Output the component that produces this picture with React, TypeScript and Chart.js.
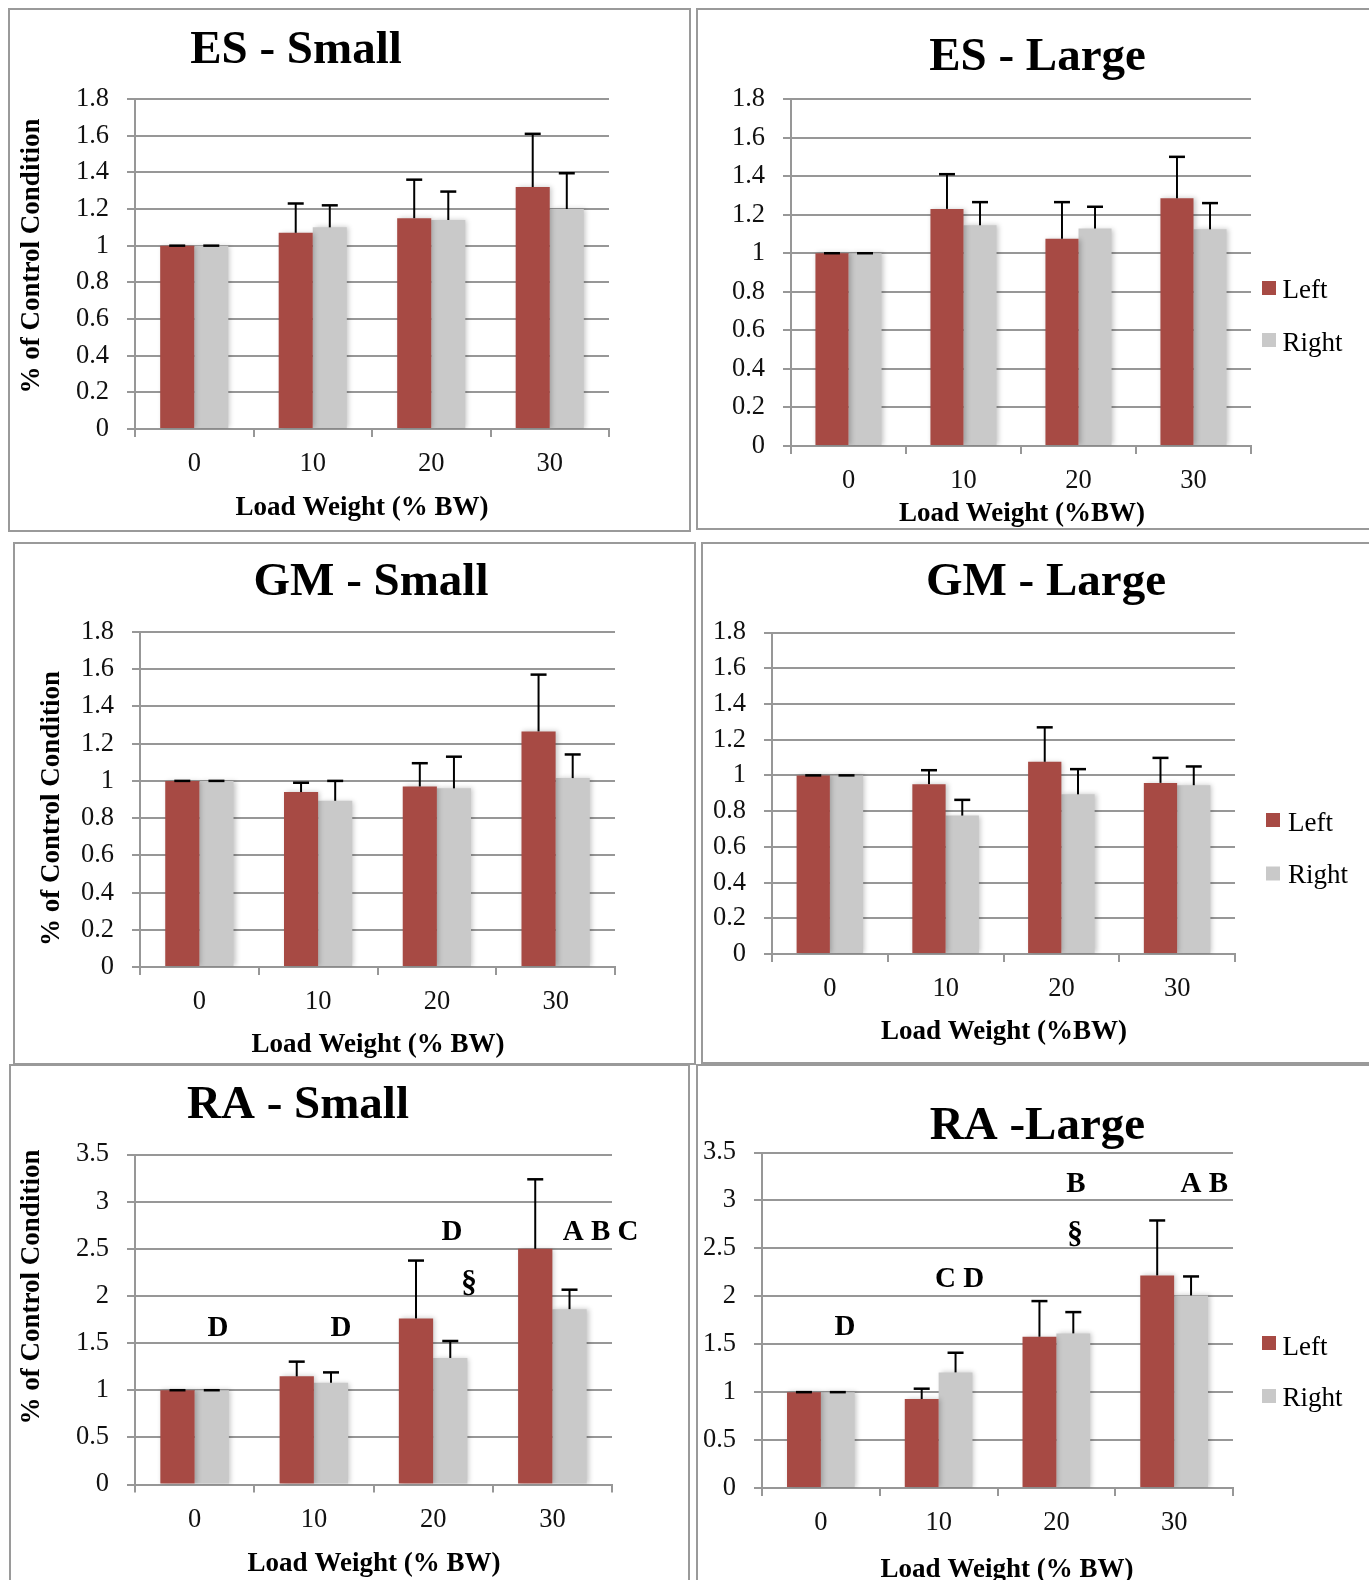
import React, { useEffect, useRef } from 'react';
import { Chart, registerables } from 'chart.js';

Chart.register(...registerables);

// Categories and tick values
const loadWeights = ['0', '10', '20', '30'];
const ticksTo18 = [0, 0.2, 0.4, 0.6, 0.8, 1, 1.2, 1.4, 1.6, 1.8];
const ticksTo35 = [0, 0.5, 1, 1.5, 2, 2.5, 3, 3.5];

// Erector spinae
const esSmallLeft = [1, 1.07, 1.15, 1.32];
const esSmallLeftErr = [0, 0.16, 0.21, 0.29];
const esSmallRight = [1, 1.1, 1.14, 1.2];
const esSmallRightErr = [0, 0.12, 0.155, 0.195];

const esLargeLeft = [1, 1.23, 1.075, 1.285];
const esLargeLeftErr = [0, 0.18, 0.19, 0.215];
const esLargeRight = [1, 1.145, 1.128, 1.124];
const esLargeRightErr = [0, 0.12, 0.113, 0.136];

// Gluteus medius
const gmSmallLeft = [1, 0.94, 0.97, 1.266];
const gmSmallLeftErr = [0, 0.05, 0.125, 0.305];
const gmSmallRight = [1, 0.893, 0.96, 1.015];
const gmSmallRightErr = [0, 0.107, 0.17, 0.127];

const gmLargeLeft = [1, 0.951, 1.076, 0.958];
const gmLargeLeftErr = [0, 0.078, 0.193, 0.14];
const gmLargeRight = [1, 0.775, 0.894, 0.945];
const gmLargeRightErr = [0, 0.088, 0.141, 0.105];

// Rectus abdominis
const raSmallLeft = [1, 1.147, 1.761, 2.5];
const raSmallLeftErr = [0, 0.156, 0.614, 0.737];
const raSmallRight = [1, 1.079, 1.342, 1.86];
const raSmallRightErr = [0, 0.11, 0.18, 0.206];

const raLargeLeft = [1, 0.928, 1.578, 2.218];
const raLargeLeftErr = [0, 0.108, 0.372, 0.573];
const raLargeRight = [1, 1.206, 1.613, 2.009];
const raLargeRightErr = [0, 0.205, 0.222, 0.198];

// Significance letters: category, text, value level, shift within the category
const raSmallMarks = [
  { cat: 0, text: 'D', value: 1.657, shift: 0.196 },
  { cat: 1, text: 'D', value: 1.657, shift: 0.227 },
  { cat: 2, text: 'D', value: 2.669, shift: 0.158 },
  { cat: 2, text: '§', value: 2.134, shift: 0.301 },
  { cat: 3, text: 'A B C', value: 2.669, shift: 0.405 },
];
const raLargeMarks = [
  { cat: 0, text: 'D', value: 1.672, shift: 0.205 },
  { cat: 1, text: 'C D', value: 2.174, shift: 0.178 },
  { cat: 2, text: 'B', value: 3.168, shift: 0.167 },
  { cat: 2, text: '§', value: 2.641, shift: 0.158 },
  { cat: 3, text: 'A B', value: 3.168, shift: 0.256 },
];

const RED = 'rgb(167, 74, 68)';
const GRAY = 'rgb(201, 201, 201)';
const GRID = '#979797';
const SERIF = "'Liberation Serif', 'Times New Roman', serif";

type Mark = { cat: number; text: string; value: number; shift: number };

interface PanelSpec {
  title: string;
  xTitle: string;
  yTitle: string | null;
  left: number[];
  leftErr: number[];
  right: number[];
  rightErr: number[];
  ticks: number[];
  marks: Mark[];
  box: { x: number; y: number; w: number; h: number };
  plot: { l: number; r: number; t: number; b: number };
  titleAt: { x: number; y: number };
  xTitleAt: { x: number; y: number };
  yTitleAt?: { x: number; y: number };
  legendAt?: { x: number; y1: number; y2: number; tx: number; b1: number; b2: number };
}

const panels: PanelSpec[] = [
  {
    title: 'ES - Small', xTitle: 'Load Weight (% BW)', yTitle: '% of Control Condition',
    left: esSmallLeft, leftErr: esSmallLeftErr, right: esSmallRight, rightErr: esSmallRightErr,
    ticks: ticksTo18, marks: [],
    box: { x: 8, y: 8, w: 683, h: 524 },
    plot: { l: 135, r: 609, t: 99, b: 429 },
    titleAt: { x: 296, y: 63 },
    xTitleAt: { x: 362, y: 514.5 },
    yTitleAt: { x: 32, y: 256 },
  },
  {
    title: 'ES - Large', xTitle: 'Load Weight (%BW)', yTitle: null,
    left: esLargeLeft, leftErr: esLargeLeftErr, right: esLargeRight, rightErr: esLargeRightErr,
    ticks: ticksTo18, marks: [],
    box: { x: 696, y: 8, w: 676, h: 522 },
    plot: { l: 791, r: 1251, t: 99, b: 446 },
    titleAt: { x: 1037.5, y: 70 },
    xTitleAt: { x: 1022, y: 520.5 },
    legendAt: { x: 1262, y1: 281, y2: 333, tx: 1282.5, b1: 298, b2: 351 },
  },
  {
    title: 'GM - Small', xTitle: 'Load Weight (% BW)', yTitle: '% of Control Condition',
    left: gmSmallLeft, leftErr: gmSmallLeftErr, right: gmSmallRight, rightErr: gmSmallRightErr,
    ticks: ticksTo18, marks: [],
    box: { x: 13, y: 542, w: 683, h: 523 },
    plot: { l: 140, r: 615, t: 632, b: 967 },
    titleAt: { x: 371, y: 595 },
    xTitleAt: { x: 378, y: 1052 },
    yTitleAt: { x: 52, y: 808.5 },
  },
  {
    title: 'GM - Large', xTitle: 'Load Weight (%BW)', yTitle: null,
    left: gmLargeLeft, leftErr: gmLargeLeftErr, right: gmLargeRight, rightErr: gmLargeRightErr,
    ticks: ticksTo18, marks: [],
    box: { x: 701, y: 542, w: 671, h: 522 },
    plot: { l: 772, r: 1235, t: 632.5, b: 954 },
    titleAt: { x: 1046, y: 595 },
    xTitleAt: { x: 1004, y: 1039 },
    legendAt: { x: 1266, y1: 813, y2: 866.5, tx: 1288, b1: 831, b2: 883 },
  },
  {
    title: 'RA - Small', xTitle: 'Load Weight (% BW)', yTitle: '% of Control Condition',
    left: raSmallLeft, leftErr: raSmallLeftErr, right: raSmallRight, rightErr: raSmallRightErr,
    ticks: ticksTo35, marks: raSmallMarks,
    box: { x: 9, y: 1064, w: 681, h: 524 },
    plot: { l: 135, r: 612, t: 1154.5, b: 1484.5 },
    titleAt: { x: 298, y: 1118 },
    xTitleAt: { x: 374, y: 1570.5 },
    yTitleAt: { x: 32, y: 1287 },
  },
  {
    title: 'RA -Large', xTitle: 'Load Weight (% BW)', yTitle: null,
    left: raLargeLeft, leftErr: raLargeLeftErr, right: raLargeRight, rightErr: raLargeRightErr,
    ticks: ticksTo35, marks: raLargeMarks,
    box: { x: 696, y: 1064, w: 676, h: 524 },
    plot: { l: 762, r: 1233, t: 1152.5, b: 1488 },
    titleAt: { x: 1037.5, y: 1139 },
    xTitleAt: { x: 1007, y: 1577 },
    legendAt: { x: 1262, y1: 1336, y2: 1389, tx: 1282.5, b1: 1354.5, b2: 1406 },
  },
];

// Draws the bar shadows, error bars, titles, legend and significance letters
function decorPlugin(p: PanelSpec) {
  const ox = p.box.x;
  const oy = p.box.y;
  return {
    id: 'panelDecor',
    beforeDatasetsDraw(chart: any) {
      const ctx = chart.ctx;
      ctx.save();
      ctx.shadowColor = 'rgba(0,0,0,0.22)';
      ctx.shadowBlur = 5;
      ctx.shadowOffsetX = 2;
      ctx.shadowOffsetY = 0;
    },
    afterDatasetsDraw(chart: any) {
      const ctx = chart.ctx;
      ctx.restore();
      const yScale = chart.scales.y;
      chart.data.datasets.forEach((ds: any, di: number) => {
        const meta = chart.getDatasetMeta(di);
        meta.data.forEach((bar: any, i: number) => {
          const v = ds.data[i];
          const e = ds.errors[i];
          const yBase = yScale.getPixelForValue(v);
          const yTop = yScale.getPixelForValue(v + e);
          ctx.save();
          ctx.strokeStyle = '#000';
          if (e > 0) {
            ctx.lineWidth = 2;
            ctx.beginPath();
            ctx.moveTo(bar.x, yBase);
            ctx.lineTo(bar.x, yTop);
            ctx.stroke();
          }
          ctx.lineWidth = 2.5;
          ctx.beginPath();
          ctx.moveTo(bar.x - 8, yTop);
          ctx.lineTo(bar.x + 8, yTop);
          ctx.stroke();
          ctx.restore();
        });
      });
    },
    afterDraw(chart: any) {
      const ctx = chart.ctx;
      ctx.save();
      ctx.fillStyle = '#000';

      ctx.font = `bold 47px ${SERIF}`;
      ctx.textAlign = 'center';
      ctx.textBaseline = 'alphabetic';
      ctx.fillText(p.title, p.titleAt.x - ox, p.titleAt.y - oy);

      ctx.font = `bold 27px ${SERIF}`;
      ctx.fillText(p.xTitle, p.xTitleAt.x - ox, p.xTitleAt.y - oy);

      if (p.yTitle && p.yTitleAt) {
        ctx.save();
        ctx.translate(p.yTitleAt.x - ox, p.yTitleAt.y - oy);
        ctx.rotate(-Math.PI / 2);
        ctx.textBaseline = 'middle';
        ctx.fillText(p.yTitle, 0, 0);
        ctx.restore();
      }

      if (p.legendAt) {
        const lg = p.legendAt;
        const names = chart.data.datasets.map((d: any) => d.label);
        const colors = chart.data.datasets.map((d: any) => d.backgroundColor);
        const ys = [lg.y1, lg.y2];
        const bs = [lg.b1, lg.b2];
        ctx.font = `27px ${SERIF}`;
        ctx.textAlign = 'left';
        names.forEach((n: string, i: number) => {
          ctx.fillStyle = colors[i];
          ctx.fillRect(lg.x - ox, ys[i] - oy, 14, 14);
          ctx.fillStyle = '#000';
          ctx.fillText(n, lg.tx - ox, bs[i] - oy);
        });
      }

      if (p.marks.length) {
        const xs = chart.scales.x;
        const ys = chart.scales.y;
        const catW = (chart.chartArea.right - chart.chartArea.left) / chart.data.labels.length;
        ctx.textAlign = 'center';
        ctx.textBaseline = 'middle';
        p.marks.forEach((m) => {
          ctx.font = m.text === '§' ? `bold 32px ${SERIF}` : `bold 29px ${SERIF}`;
          ctx.fillText(m.text, xs.getPixelForValue(m.cat) + m.shift * catW, ys.getPixelForValue(m.value));
        });
      }
      ctx.restore();
    },
  };
}

function Panel({ spec }: { spec: PanelSpec }) {
  const ref = useRef<HTMLCanvasElement | null>(null);
  useEffect(() => {
    const canvas = ref.current;
    if (!canvas) return;
    const { box, plot, ticks } = spec;
    const yWidth = plot.l - box.x;
    const xHeight = 44;
    const tickFont = { family: SERIF, size: 26.5 };
    const chart = new Chart(canvas, {
      type: 'bar',
      data: {
        labels: loadWeights,
        datasets: [
          { label: 'Left', data: spec.left, errors: spec.leftErr, backgroundColor: RED, barPercentage: 1, categoryPercentage: 0.575 } as any,
          { label: 'Right', data: spec.right, errors: spec.rightErr, backgroundColor: GRAY, barPercentage: 1, categoryPercentage: 0.575 } as any,
        ],
      },
      options: {
        animation: false,
        responsive: false,
        maintainAspectRatio: false,
        devicePixelRatio: 1,
        events: [],
        layout: {
          padding: {
            left: 0,
            top: plot.t - box.y,
            right: box.x + box.w - plot.r,
            bottom: box.y + box.h - plot.b - xHeight,
          },
        },
        plugins: {
          legend: { display: false },
          title: { display: false },
          tooltip: { enabled: false },
        },
        scales: {
          x: {
            grid: { display: true, drawOnChartArea: false, drawTicks: true, tickLength: 8, color: GRID, lineWidth: 2, offset: true },
            border: { display: true, color: GRID, width: 2 },
            ticks: { font: tickFont, color: '#111', padding: 11.5, maxRotation: 0 },
            afterFit: (s: any) => { s.height = xHeight; },
          },
          y: {
            min: 0,
            max: ticks[ticks.length - 1],
            afterBuildTicks: (s: any) => { s.ticks = ticks.map((v) => ({ value: v })); },
            grid: { color: GRID, lineWidth: 2, tickLength: 8 },
            border: { display: true, color: GRID, width: 2 },
            ticks: { font: tickFont, color: '#111', padding: 18, callback: (v: any) => String(Number(v)) },
            afterFit: (s: any) => { s.width = yWidth; },
          },
        },
      } as any,
      plugins: [decorPlugin(spec) as any],
    });
    return () => chart.destroy();
  }, [spec]);

  const { box } = spec;
  return (
    <>
      <canvas
        ref={ref}
        width={box.w}
        height={box.h}
        style={{ position: 'absolute', left: box.x, top: box.y, width: box.w, height: box.h }}
      />
      <div
        style={{
          position: 'absolute', left: box.x, top: box.y, width: box.w, height: box.h,
          border: '2px solid #9a9a9a', boxSizing: 'border-box', pointerEvents: 'none',
        }}
      />
    </>
  );
}

export default function App() {
  return (
    <div
      style={{
        position: 'absolute', left: 0, top: 0, width: 1369, height: 1580,
        overflow: 'hidden', background: '#fff',
      }}
    >
      {panels.map((p) => (
        <Panel key={p.title} spec={p} />
      ))}
    </div>
  );
}
